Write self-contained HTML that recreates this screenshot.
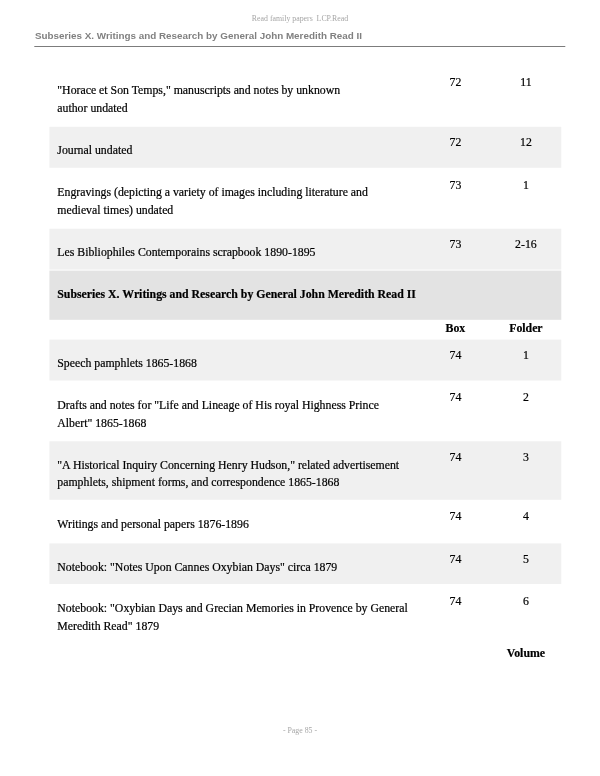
<!DOCTYPE html>
<html><head><meta charset="utf-8">
<style>
html,body{margin:0;padding:0;background:#fff;}
body{width:600px;height:776px;overflow:hidden;}
svg{display:block;}
text{font-family:"Liberation Serif",serif;font-size:11.81px;fill:#000;stroke:#000;stroke-width:0.2px;}
.s{font-size:7.84px;fill:#a6a6a6;stroke:none;text-anchor:middle;}
.h{font-family:"Liberation Sans",sans-serif;font-weight:bold;font-size:9.86px;fill:#808080;stroke:none;}
.c{text-anchor:middle;}
.b{font-weight:bold;}
</style></head><body>
<svg width="600" height="776" viewBox="0 0 600 776">
<rect width="600" height="776" fill="#fff"/>
<rect x="49.4" y="126.8" width="511.9" height="41.0" fill="#f0f0f0"/>
<rect x="49.4" y="228.7" width="511.9" height="40.9" fill="#f0f0f0"/>
<rect x="49.4" y="270.6" width="511.9" height="49.2" fill="#e3e3e3"/>
<rect x="49.4" y="339.6" width="511.9" height="40.9" fill="#f0f0f0"/>
<rect x="49.4" y="441.3" width="511.9" height="58.5" fill="#f0f0f0"/>
<rect x="49.4" y="543.4" width="511.9" height="40.6" fill="#f0f0f0"/>
<text class="s" x="300" y="21.2">Read family papers&#160; LCP.Read</text>
<text class="h" x="35" y="39.0">Subseries X. Writings and Research by General John Meredith Read II</text>
<rect x="34.3" y="46" width="531" height="1" fill="#7c7c7c"/>
<text x="57.3" y="94.20">&quot;Horace et Son Temps," manuscripts and notes by unknown</text>
<text x="57.3" y="111.85">author undated</text>
<text class="c" x="455.4" y="86.30">72</text>
<text class="c" x="525.9" y="86.30">11</text>
<text x="57.3" y="154.30">Journal undated</text>
<text class="c" x="455.4" y="146.40">72</text>
<text class="c" x="525.9" y="146.40">12</text>
<text x="57.3" y="196.10">Engravings (depicting a variety of images including literature and</text>
<text x="57.3" y="213.75">medieval times) undated</text>
<text class="c" x="455.4" y="188.50">73</text>
<text class="c" x="525.9" y="188.50">1</text>
<text x="57.3" y="255.90">Les Bibliophiles Contemporains scrapbook 1890-1895</text>
<text class="c" x="455.4" y="248.00">73</text>
<text class="c" x="525.9" y="248.00">2-16</text>
<text class="b" x="57.3" y="298">Subseries X. Writings and Research by General John Meredith Read II</text>
<text class="b c" x="455.4" y="332.4">Box</text>
<text class="b c" x="525.9" y="332.4">Folder</text>
<text x="57.3" y="366.90">Speech pamphlets 1865-1868</text>
<text class="c" x="455.4" y="359.00">74</text>
<text class="c" x="525.9" y="359.00">1</text>
<text x="57.3" y="408.90">Drafts and notes for "Life and Lineage of His royal Highness Prince</text>
<text x="57.3" y="426.55">Albert" 1865-1868</text>
<text class="c" x="455.4" y="401.00">74</text>
<text class="c" x="525.9" y="401.00">2</text>
<text x="57.3" y="468.60">"A Historical Inquiry Concerning Henry Hudson," related advertisement</text>
<text x="57.3" y="486.25">pamphlets, shipment forms, and correspondence 1865-1868</text>
<text class="c" x="455.4" y="460.70">74</text>
<text class="c" x="525.9" y="460.70">3</text>
<text x="57.3" y="528.10">Writings and personal papers 1876-1896</text>
<text class="c" x="455.4" y="519.60">74</text>
<text class="c" x="525.9" y="519.60">4</text>
<text x="57.3" y="570.60">Notebook: "Notes Upon Cannes Oxybian Days" circa 1879</text>
<text class="c" x="455.4" y="562.70">74</text>
<text class="c" x="525.9" y="562.70">5</text>
<text x="57.3" y="612.30">Notebook: "Oxybian Days and Grecian Memories in Provence by General</text>
<text x="57.3" y="629.95">Meredith Read" 1879</text>
<text class="c" x="455.4" y="604.50">74</text>
<text class="c" x="525.9" y="604.50">6</text>
<text class="b c" x="525.9" y="656.8">Volume</text>
<text class="s" x="300" y="733">- Page 85 -</text>
</svg></body></html>
